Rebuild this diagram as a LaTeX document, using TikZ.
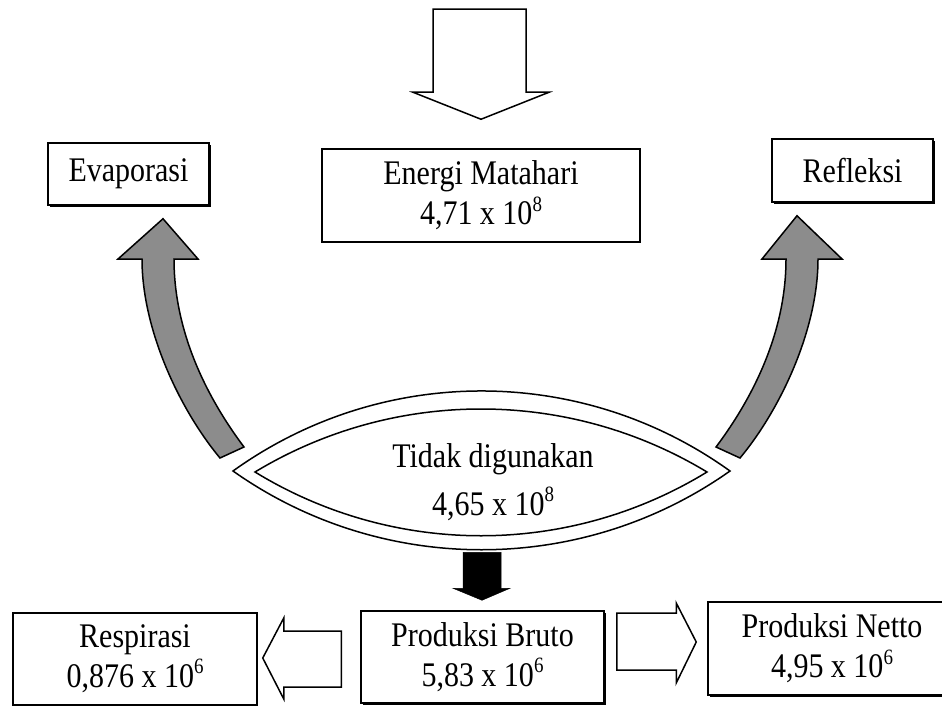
\documentclass[tikz,border=0pt]{standalone}
\usepackage{fontspec}
\setmainfont{Liberation Serif}
\usetikzlibrary{shadows,calc}
\newcommand{\tallline}[1]{\scalebox{1}[1.15]{#1}}
\newcommand{\supnum}[1]{\raisebox{0.4em}{\fontsize{19}{19}\selectfont #1}}
\tikzset{
  lbl/.style={font={\fontsize{30}{40}\selectfont\lineskiplimit-20pt\relax}, align=center, inner sep=0pt},
  box/.style={lbl, draw, line width=1.5pt, fill=white},
  shadowbox/.style={box, drop shadow={shadow xshift=2pt, shadow yshift=-2pt, fill=black, opacity=1}},
  hollow/.style={draw, line width=1.5pt, fill=white, line join=miter},
  curvedarrow/.style={draw, line width=1.5pt, fill={rgb,255:red,140;green,140;blue,140}, line join=miter},
  solidarrow/.style={fill=black, draw=black, line width=0.5pt},
  lensline/.style={draw, line width=1.5pt}
}
\begin{document}
\begin{tikzpicture}[x=1pt,y=-1pt]
\useasboundingbox (0,0) rectangle (942,706);

% boxes
\node[shadowbox, minimum width=161pt, minimum height=62pt] (evap) at (128.5,174) {\tallline{Evaporasi}};
\node[shadowbox, minimum width=161pt, minimum height=63pt] (refl) at (852.5,170.5) {\tallline{Refleksi}};
\node[box, minimum width=318pt, minimum height=93pt] (energi) at (481,195.5) {\tallline{Energi Matahari}\\\tallline{4,71 x 10\supnum{8}}};
\node[box, minimum width=244pt, minimum height=92pt] (resp) at (135,659) {\tallline{Respirasi}\\\tallline{0,876 x 10\supnum{6}}};
\node[shadowbox, minimum width=243pt, minimum height=92pt] (bruto) at (482.5,657) {\tallline{Produksi Bruto}\\\tallline{5,83 x 10\supnum{6}}};
\node[shadowbox, minimum width=248pt, minimum height=93pt] (netto) at (832,648.5) {\tallline{Produksi Netto}\\\tallline{4,95 x 10\supnum{6}}};

% top hollow arrow into Energi Matahari
\coordinate (toptip) at ($(energi.north)+(0,-29)$);
\draw[hollow] ($(toptip)+(-48,-110)$) -- ($(toptip)+(45,-110)$) -- ($(toptip)+(45,-27)$) -- ($(toptip)+(68,-27)$)
  -- (toptip) -- ($(toptip)+(-68,-27)$) -- ($(toptip)+(-48,-27)$) -- cycle;

% lens (Tidak digunakan)
\coordinate (lensL) at (233,471);
\coordinate (lensR) at (730,471);
\draw[lensline] (lensL) .. controls (381.6,364.3) and (581.4,364.3) .. (lensR)
  .. controls (581.4,576) and (381.6,576) .. cycle;
\draw[lensline] (255,472) .. controls (394,388) and (568,388) .. (707,472)
  .. controls (568,557) and (394,557) .. cycle;
\node[lbl, font={\fontsize{30}{48}\selectfont\lineskiplimit-20pt\relax}] (tidak) at (493,482) {\tallline{Tidak digunakan}\\\tallline{4,65 x 10\supnum{8}}};

% curved grey arrows
\draw[curvedarrow] (220,458) .. controls (180,410) and (142,330) .. (142,259) -- (118,259) -- ($(evap.south)+(34.5,13)$)
  -- (198,259) -- (174,259) .. controls (174,330) and (205,395) .. (244,447) -- cycle;
\draw[curvedarrow] (740,458) .. controls (780,410) and (818,330) .. (818,259) -- (842,259) -- ($(refl.south)+(-55.5,13)$)
  -- (762,259) -- (786,259) .. controls (786,330) and (755,395) .. (716,447) -- cycle;

% black arrow lens -> Produksi Bruto
\coordinate (btip) at ($(bruto.north)+(-0.5,-10)$);
\draw[solidarrow] ($(btip)+(-19,-48)$) -- ($(btip)+(19,-48)$) -- ($(btip)+(19,-12)$) -- ($(btip)+(28,-12)$)
  -- (btip) -- ($(btip)+(-29,-12)$) -- ($(btip)+(-19,-12)$) -- cycle;

% hollow arrow Produksi Bruto -> Respirasi
\coordinate (ltip) at ($(resp.east)+(5,-1)$);
\draw[hollow] (ltip) -- ($(ltip)+(21,-40)$) -- ($(ltip)+(21,-27)$) -- ($(bruto.west)+(-19,-26)$)
  -- ($(bruto.west)+(-19,30)$) -- ($(ltip)+(21,29)$) -- ($(ltip)+(21,41)$) -- cycle;

% hollow arrow Produksi Bruto -> Produksi Netto
\coordinate (rtip) at ($(netto.west)+(-11,-6.5)$);
\draw[hollow] ($(bruto.east)+(12,-44)$) -- ($(rtip)+(-20,-29)$) -- ($(rtip)+(-20,-39)$) -- (rtip)
  -- ($(rtip)+(-20,41)$) -- ($(rtip)+(-20,28)$) -- ($(bruto.east)+(12,13)$) -- cycle;
\end{tikzpicture}
\end{document}
